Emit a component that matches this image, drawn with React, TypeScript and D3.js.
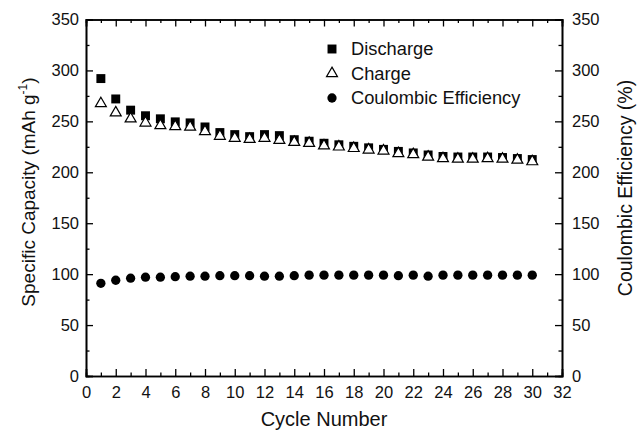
import React, { useEffect, useRef } from "react";
import * as d3 from "d3";

// cycle numbers and read-off values
const cycles = [1, 2, 3, 4, 5, 6, 7, 8, 9, 10, 11, 12, 13, 14, 15, 16, 17, 18, 19, 20, 21, 22, 23, 24, 25, 26, 27, 28, 29, 30];
const discharge = [292, 272, 261, 255.5, 252.5, 249.5, 248.5, 244.5, 239, 237, 235, 237, 236, 232, 230.5, 228.5, 227, 225.5, 224, 222.5, 220.5, 219, 217, 215.5, 215, 215, 215, 214.5, 213.5, 212.5];
const charge = [268, 259, 253, 249, 246.5, 245.5, 245, 240.5, 236, 234, 233, 234, 232, 230, 229, 226.5, 225.5, 224, 222.5, 221.5, 219, 218, 215.5, 214, 213.5, 213.5, 214, 213.5, 212.5, 211];
const efficiency = [91, 94, 96, 97, 97, 97.5, 98, 98, 98.5, 98.5, 98.5, 98, 98, 98.5, 99, 99, 99, 99, 99, 99, 98.5, 99, 98, 99, 99, 99, 99, 99, 99, 99];

const xTicks = [0, 2, 4, 6, 8, 10, 12, 14, 16, 18, 20, 22, 24, 26, 28, 30, 32];
const yTicks = [0, 50, 100, 150, 200, 250, 300, 350];
const legendLabels = ["Discharge", "Charge", "Coulombic Efficiency"];

const App = () => {
  const ref = useRef(null);

  useEffect(() => {
    const width = 638;
    const height = 431;
    const m = { top: 19.5, right: 76, bottom: 55, left: 86 };
    const font = "'Liberation Sans', Arial, sans-serif";

    const svg = d3.select(ref.current);
    svg.selectAll("*").remove();

    const x = d3.scaleLinear().domain([0, 32]).range([m.left, width - m.right]);
    const y = d3.scaleLinear().domain([0, 350]).range([height - m.bottom, m.top]);
    const y2 = d3.scaleLinear().domain([0, 350]).range([height - m.bottom, m.top]);

    const minorX = d3.range(1, 32, 2);
    const minorY = d3.range(25, 350, 50);

    const styleAxis = (g) =>
      g
        .call((g) => g.select(".domain").attr("stroke-width", 1.6))
        .call((g) => g.selectAll(".tick line").attr("stroke-width", 1.3))
        .call((g) => g.selectAll("text").attr("font-size", 16.5).attr("font-family", font).attr("fill", "#111"));

    // bottom
    svg.append("g")
      .attr("transform", `translate(0,${y(0)})`)
      .call(d3.axisBottom(x).tickValues(xTicks).tickSize(-7).tickPadding(10).tickFormat(d3.format("d")))
      .call(styleAxis);
    svg.append("g")
      .attr("transform", `translate(0,${y(0)})`)
      .call(d3.axisBottom(x).tickValues(minorX).tickSize(-3.5).tickFormat(""))
      .call(styleAxis);
    // top
    svg.append("g")
      .attr("transform", `translate(0,${m.top})`)
      .call(d3.axisTop(x).tickValues(xTicks).tickSize(-7).tickFormat(""))
      .call(styleAxis);
    svg.append("g")
      .attr("transform", `translate(0,${m.top})`)
      .call(d3.axisTop(x).tickValues(minorX).tickSize(-3.5).tickFormat(""))
      .call(styleAxis);
    // left
    svg.append("g")
      .attr("transform", `translate(${m.left},0)`)
      .call(d3.axisLeft(y).tickValues(yTicks).tickSize(-7).tickPadding(7))
      .call(styleAxis);
    svg.append("g")
      .attr("transform", `translate(${m.left},0)`)
      .call(d3.axisLeft(y).tickValues(minorY).tickSize(-3.5).tickFormat(""))
      .call(styleAxis);
    // right
    svg.append("g")
      .attr("transform", `translate(${width - m.right},0)`)
      .call(d3.axisRight(y2).tickValues(yTicks).tickSize(-7).tickPadding(10))
      .call(styleAxis);
    svg.append("g")
      .attr("transform", `translate(${width - m.right},0)`)
      .call(d3.axisRight(y2).tickValues(minorY).tickSize(-3.5).tickFormat(""))
      .call(styleAxis);

    const square = d3.symbol(d3.symbolSquare, 80)();
    const triangle = d3.symbol(d3.symbolTriangle, 52)();
    const circle = d3.symbol(d3.symbolCircle, 68)();

    svg.append("g")
      .selectAll("path")
      .data(cycles)
      .join("path")
      .attr("d", square)
      .attr("transform", (d, i) => `translate(${x(d)},${y(discharge[i])})`)
      .attr("fill", "#000");

    svg.append("g")
      .selectAll("path")
      .data(cycles)
      .join("path")
      .attr("d", triangle)
      .attr("transform", (d, i) => `translate(${x(d)},${y(charge[i]) + 0.5})`)
      .attr("fill", "#fff")
      .attr("stroke", "#000")
      .attr("stroke-width", 1.2);

    svg.append("g")
      .selectAll("path")
      .data(cycles)
      .join("path")
      .attr("d", circle)
      .attr("transform", (d, i) => `translate(${x(d)},${y2(efficiency[i])})`)
      .attr("fill", "#000");

    // legend
    const legend = svg.append("g").attr("transform", "translate(332,49)");
    const marks = [
      { d: square, fill: "#000", stroke: "none" },
      { d: triangle, fill: "#fff", stroke: "#000" },
      { d: circle, fill: "#000", stroke: "none" },
    ];
    legendLabels.forEach((label, i) => {
      const row = legend.append("g").attr("transform", `translate(0,${i * 24.5})`);
      row.append("path")
        .attr("d", marks[i].d)
        .attr("fill", marks[i].fill)
        .attr("stroke", marks[i].stroke)
        .attr("stroke-width", 1.2);
      row.append("text")
        .attr("x", 19)
        .attr("y", 6)
        .attr("font-family", font)
        .attr("font-size", 18.3)
        .attr("fill", "#111")
        .text(label);
    });

    // axis titles
    svg.append("text")
      .attr("x", (m.left + width - m.right) / 2)
      .attr("y", 426)
      .attr("text-anchor", "middle")
      .attr("font-family", font)
      .attr("font-size", 20)
      .attr("fill", "#111")
      .text("Cycle Number");

    const leftTitle = svg.append("text")
      .attr("transform", "translate(35,192) rotate(-90)")
      .attr("text-anchor", "middle")
      .attr("font-family", font)
      .attr("font-size", 19)
      .attr("fill", "#111");
    leftTitle.append("tspan").text("Specific Capacity (mAh g");
    leftTitle.append("tspan").attr("font-size", 12).attr("dy", -8).text("-1");
    leftTitle.append("tspan").attr("dy", 8).text(")");

    svg.append("text")
      .attr("transform", "translate(632,188) rotate(-90)")
      .attr("text-anchor", "middle")
      .attr("font-family", font)
      .attr("font-size", 19.5)
      .attr("fill", "#111")
      .text("Coulombic Efficiency (%)");
  }, []);

  return (
    <svg
      ref={ref}
      width={638}
      height={431}
      style={{ position: "absolute", left: 0, top: 0, background: "#fff" }}
    ></svg>
  );
};

export default App;
